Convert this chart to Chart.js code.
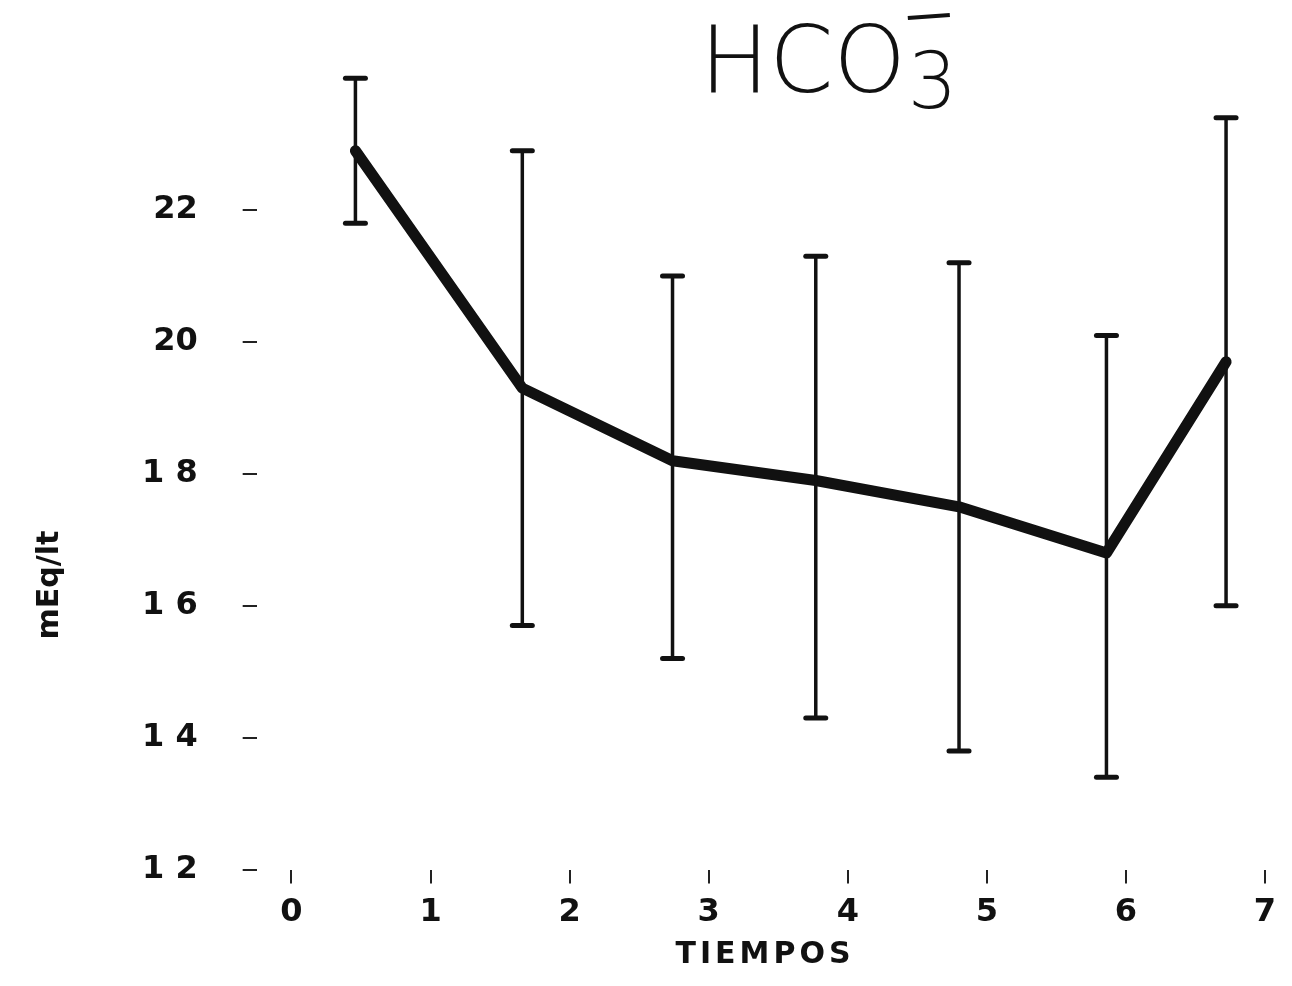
<!DOCTYPE html>
<html>
<head>
<meta charset="utf-8">
<script src="https://cdn.jsdelivr.net/npm/chart.js@4/dist/chart.umd.min.js"></script>
<style>
  html, body { margin: 0; padding: 0; background: #fff; }
  #wrap { width: 1292px; height: 986px; position: relative; }
</style>
</head>
<body>
<div id="wrap"><canvas id="c" width="1292" height="986"></canvas></div>
<script>
// ---- data ----
const times      = [0.46, 1.66, 2.74, 3.77, 4.80, 5.86, 6.72];
const meanHCO3   = [22.9, 19.3, 18.2, 17.9, 17.5, 16.8, 19.7];
const upperHCO3  = [24.0, 22.9, 21.0, 21.3, 21.2, 20.1, 23.4];
const lowerHCO3  = [21.8, 15.7, 15.2, 14.3, 13.8, 13.4, 16.0];
const yTickValues = [12, 14, 16, 18, 20, 22];
const yTickLabels = ['1 2', '1 4', '1 6', '1 8', '20', '22'];
const xTickValues = [0, 1, 2, 3, 4, 5, 6, 7];
const xTickLabels = ['0', '1', '2', '3', '4', '5', '6', '7'];
const titleMain = 'HCO';
const titleSub = '3';
const yTitle = 'mEq/lt';
const xTitle = 'TIEMPOS';

const errorBars = {
  id: 'errorBars',
  afterDatasetsDraw(chart) {
    const ctx = chart.ctx, xs = chart.scales.x, ys = chart.scales.y;
    ctx.save();
    ctx.strokeStyle = '#111';
    ctx.lineCap = 'round';
    times.forEach((t, i) => {
      const x = xs.getPixelForValue(t);
      const yt = ys.getPixelForValue(upperHCO3[i]);
      const yb = ys.getPixelForValue(lowerHCO3[i]);
      ctx.lineWidth = 3.5;
      ctx.beginPath(); ctx.moveTo(x, yt); ctx.lineTo(x, yb); ctx.stroke();
      ctx.lineWidth = 5;
      ctx.beginPath(); ctx.moveTo(x - 10, yt); ctx.lineTo(x + 10, yt); ctx.stroke();
      ctx.beginPath(); ctx.moveTo(x - 10, yb); ctx.lineTo(x + 10, yb); ctx.stroke();
    });
    ctx.restore();
  }
};

const texts = {
  id: 'texts',
  afterDraw(chart) {
    const ctx = chart.ctx;
    ctx.save();
    ctx.fillStyle = '#111';
    // title
    ctx.font = '200 92px "DejaVu Sans"';
    ctx.textBaseline = 'alphabetic';
    ctx.textAlign = 'left';
    ctx.fillText(titleMain, 700, 92);
    const w = ctx.measureText(titleMain).width;
    ctx.font = '200 78px "DejaVu Sans"';
    ctx.fillText(titleSub, 700 + w + 2, 108);
    ctx.lineWidth = 4;
    ctx.strokeStyle = '#111';
    ctx.beginPath(); ctx.moveTo(700 + w + 2, 18); ctx.lineTo(700 + w + 44, 15); ctx.stroke();
    // y title
    ctx.translate(50, 585);
    ctx.rotate(-Math.PI / 2);
    ctx.font = 'bold 30px "DejaVu Sans"';
    ctx.textAlign = 'center';
    ctx.textBaseline = 'middle';
    ctx.fillText(yTitle, 0, 0);
    ctx.restore();
    // x title
    ctx.save();
    ctx.fillStyle = '#111';
    ctx.font = 'bold 30px "DejaVu Sans"';
    ctx.textAlign = 'center';
    ctx.textBaseline = 'middle';
    ctx.letterSpacing = '4px';
    ctx.fillText(xTitle, 765, 955);
    ctx.restore();
  }
};

new Chart(document.getElementById('c'), {
  type: 'line',
  data: {
    datasets: [{
      data: times.map((t, i) => ({ x: t, y: meanHCO3[i] })),
      borderColor: '#111',
      borderWidth: 11,
      pointRadius: 0,
      tension: 0,
      borderJoinStyle: 'round',
      borderCapStyle: 'round'
    }]
  },
  options: {
    responsive: false,
    animation: false,
    layout: { padding: { left: 97, right: 27, top: 65, bottom: 44 } },
    plugins: { legend: { display: false }, tooltip: { enabled: false } },
    scales: {
      x: {
        type: 'linear', min: -0.25, max: 7,
        afterBuildTicks: s => { s.ticks = xTickValues.map(v => ({ value: v })); },
        border: { display: false },
        grid: { drawOnChartArea: false, drawTicks: true, tickLength: 14, color: '#222', lineWidth: 2 },
        ticks: {
          callback: (v) => xTickLabels[xTickValues.indexOf(v)],
          color: '#111', padding: 10,
          font: { family: 'DejaVu Sans', weight: 'bold', size: 32 },
          maxRotation: 0
        }
      },
      y: {
        type: 'linear', min: 12, max: 24.2,
        afterBuildTicks: s => { s.ticks = yTickValues.map(v => ({ value: v })); },
        border: { display: false },
        grid: { drawOnChartArea: false, drawTicks: true, tickLength: 14, color: '#222', lineWidth: 2 },
        ticks: {
          callback: (v) => yTickLabels[yTickValues.indexOf(v)],
          color: '#111', padding: 45,
          font: { family: 'DejaVu Sans', weight: 'bold', size: 32 }
        }
      }
    }
  },
  plugins: [errorBars, texts]
});
</script>
</body>
</html>
